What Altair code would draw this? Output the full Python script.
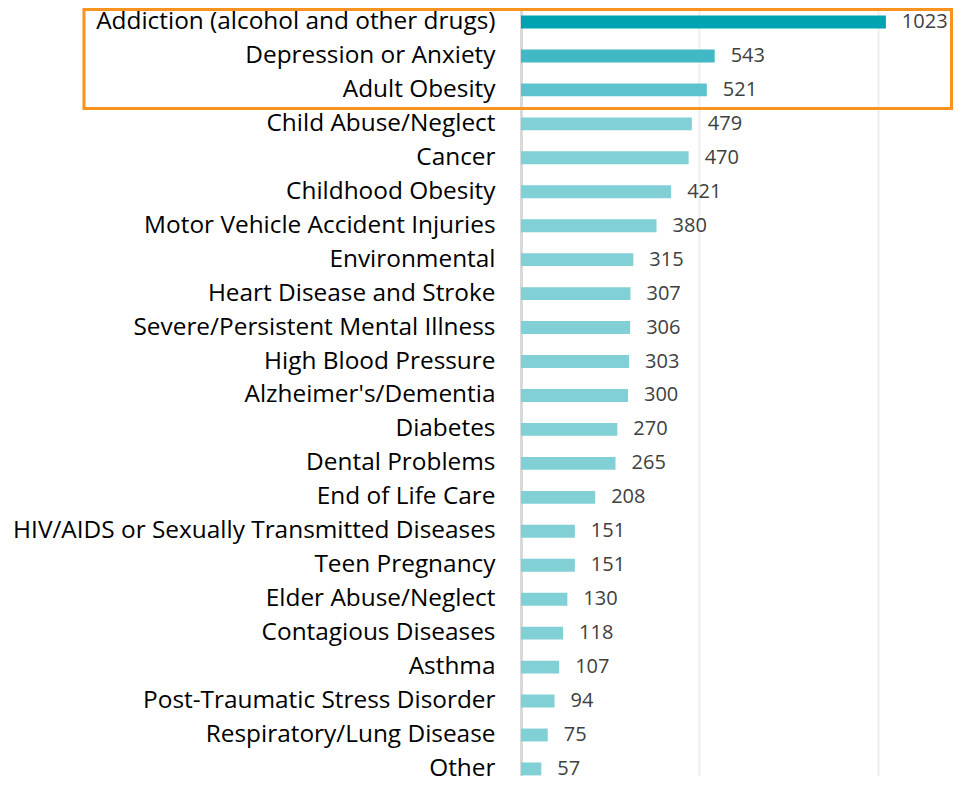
import altair as alt
import pandas as pd

categories = [
    "Addiction (alcohol and other drugs)",
    "Depression or Anxiety",
    "Adult Obesity",
    "Child Abuse/Neglect",
    "Cancer",
    "Childhood Obesity",
    "Motor Vehicle Accident Injuries",
    "Environmental",
    "Heart Disease and Stroke",
    "Severe/Persistent Mental Illness",
    "High Blood Pressure",
    "Alzheimer's/Dementia",
    "Diabetes",
    "Dental Problems",
    "End of Life Care",
    "HIV/AIDS or Sexually Transmitted Diseases",
    "Teen Pregnancy",
    "Elder Abuse/Neglect",
    "Contagious Diseases",
    "Asthma",
    "Post-Traumatic Stress Disorder",
    "Respiratory/Lung Disease",
    "Other",
]
values = [1023, 543, 521, 479, 470, 421, 380, 315, 307, 306, 303, 300, 270,
          265, 208, 151, 151, 130, 118, 107, 94, 75, 57]
title_text = "Important in St. Johns County?"

palette = ["#00A3B1", "#40B9C5", "#5CC3CE"] + ["#80D0D6"] * (len(categories) - 3)

df = pd.DataFrame({"Issue": categories, "Count": values})

FONT = "Open Sans"

y_enc = alt.Y(
    "Issue:N",
    sort=categories,
    scale=alt.Scale(paddingInner=0.62, paddingOuter=0.12, align=0.926),
    axis=alt.Axis(
        title=None,
        ticks=False,
        tickSize=0,
        labelPadding=26,
        labelFont=FONT,
        labelFontSize=24.4,
        labelColor="#000000",
        labelLimit=600,
        domainColor="#D9D9D9",
        domainWidth=3,
        grid=False,
    ),
)
x_enc = alt.X(
    "Count:Q",
    scale=alt.Scale(domain=[0, 1200], nice=False),
    axis=alt.Axis(
        title=None,
        values=[0, 500, 1000],
        labels=False,
        ticks=False,
        domain=False,
        grid=True,
        gridColor="#EEEEEE",
        gridWidth=2,
    ),
)

base = alt.Chart(df)

bars = base.mark_bar().encode(
    x=x_enc,
    y=y_enc,
    color=alt.Color("Issue:N", scale=alt.Scale(domain=categories, range=palette), legend=None),
)

labels = base.mark_text(
    align="left", baseline="middle", dx=16, font=FONT, fontSize=20, color="#404040"
).encode(
    x=alt.X("Count:Q"),
    y=alt.Y("Issue:N", sort=categories),
    text=alt.Text("Count:Q"),
)

one = pd.DataFrame({"t": [title_text]})

title = alt.Chart(one).mark_text(
    align="center", baseline="alphabetic", font=FONT, fontSize=24, fontWeight="bold", color="#000000"
).encode(
    x=alt.value(-33),
    y=alt.value(-4),
    text="t:N",
)

box = alt.Chart(one).mark_rect(
    fill=None, fillOpacity=0, stroke="#F7931E", strokeWidth=3
).encode(
    x=alt.value(-437),
    x2=alt.value(430.5),
    y=alt.value(1.5),
    y2=alt.value(100.5),
)

chart = alt.layer(bars, labels, title, box).properties(
    width=428,
    height=768,
    autosize=alt.AutoSizeParams(type="none"),
    padding={"left": 513, "top": 0, "right": 4, "bottom": 0},
).configure_view(stroke=None)

chart.save("out.html", embed_options={"renderer": "svg", "actions": False})
